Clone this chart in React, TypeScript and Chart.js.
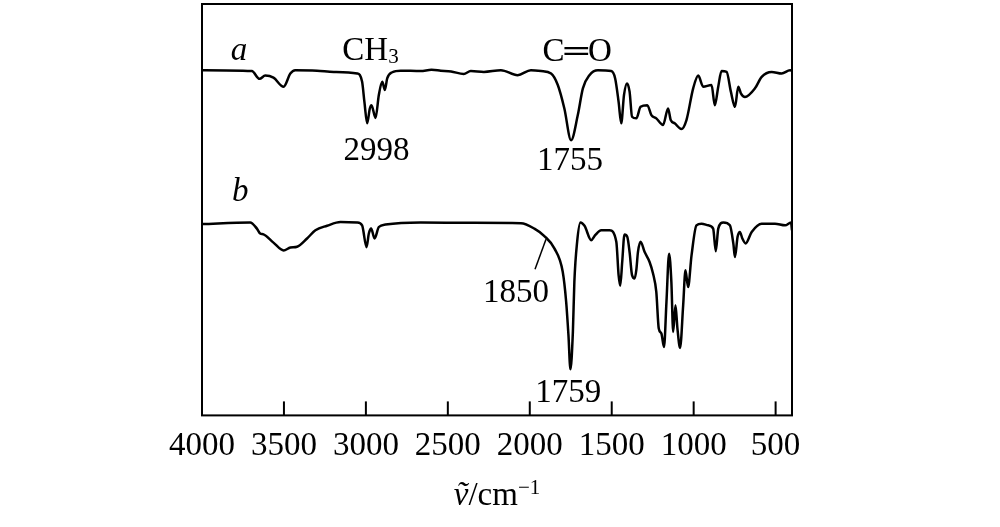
import React, { useEffect, useRef } from "react";
import { Chart, registerables } from "chart.js";

Chart.register(...registerables);

// Wavenumber tick labels (cm^-1)
const tickValues = [4000, 3500, 3000, 2500, 2000, 1500, 1000, 500];

// Spectrum a (relative transmittance, arbitrary units 0-100)
const aWavenumbers = [4000, 3696, 3649, 3614, 3564, 3502, 3461, 3431, 3298, 3196, 3053, 3023, 3009, 2992, 2976, 2966, 2941, 2921, 2900, 2884, 2870, 2839, 2788, 2666, 2600, 2543, 2480, 2403, 2360, 2280, 2176, 2074, 1993, 1931, 1870, 1829, 1789, 1748, 1707, 1676, 1636, 1584, 1503, 1479, 1458, 1442, 1425, 1407, 1391, 1376, 1350, 1324, 1283, 1258, 1228, 1187, 1156, 1140, 1116, 1075, 1044, 1003, 972, 942, 891, 871, 850, 830, 799, 773, 748, 728, 712, 687, 626, 585, 524, 463, 412, 400];
const aValues = [83.9, 83.7, 81.8, 82.6, 82.1, 79.9, 83.1, 83.9, 83.8, 83.5, 83.1, 81.1, 76.2, 71.0, 74.6, 75.4, 72.3, 77.9, 81.1, 79.1, 81.9, 83.4, 83.8, 83.7, 84.0, 83.8, 83.6, 83.0, 83.7, 83.5, 83.9, 82.7, 83.9, 83.7, 83.1, 80.3, 74.6, 66.9, 73.0, 79.5, 82.7, 83.9, 83.7, 81.9, 76.2, 71.0, 77.9, 80.7, 78.7, 72.6, 72.2, 75.0, 75.4, 73.0, 72.2, 70.6, 74.6, 71.8, 71.0, 69.6, 71.8, 79.5, 82.6, 79.9, 80.3, 75.4, 79.9, 83.7, 83.5, 78.7, 75.0, 79.9, 78.3, 77.4, 79.5, 82.3, 83.5, 83.1, 83.9, 83.8];

// Spectrum b
const bWavenumbers = [4000, 3706, 3665, 3645, 3625, 3564, 3502, 3461, 3420, 3359, 3308, 3237, 3155, 3053, 3023, 2996, 2982, 2968, 2947, 2921, 2880, 2666, 2360, 2054, 1972, 1911, 1850, 1799, 1778, 1764, 1752, 1737, 1728, 1711, 1691, 1666, 1625, 1601, 1564, 1513, 1472, 1458, 1448, 1436, 1422, 1405, 1391, 1376, 1360, 1350, 1340, 1324, 1299, 1269, 1248, 1228, 1213, 1197, 1181, 1166, 1150, 1136, 1125, 1111, 1099, 1083, 1064, 1050, 1034, 1013, 983, 952, 911, 881, 865, 850, 819, 779, 758, 748, 732, 718, 703, 683, 646, 585, 504, 442, 406, 400];
const bValues = [46.5, 46.9, 45.4, 44.2, 44.0, 42.0, 40.1, 40.8, 41.0, 43.0, 45.0, 46.1, 47.0, 46.9, 46.2, 40.9, 44.2, 45.4, 43.0, 45.8, 46.4, 46.9, 46.8, 46.7, 45.4, 43.6, 40.6, 34.9, 27.6, 19.5, 11.2, 20.3, 32.4, 42.2, 46.9, 46.1, 42.6, 43.8, 45.0, 45.0, 42.2, 34.1, 31.5, 37.3, 44.0, 43.4, 39.7, 34.1, 33.3, 35.3, 39.7, 42.2, 39.7, 37.3, 34.5, 30.0, 21.1, 19.9, 16.6, 27.6, 39.3, 32.4, 20.3, 26.8, 21.1, 16.4, 26.8, 35.3, 31.2, 38.9, 46.2, 46.6, 46.2, 45.4, 39.9, 45.4, 46.9, 46.2, 41.8, 38.5, 43.4, 44.6, 43.0, 41.8, 44.6, 46.6, 46.6, 46.2, 46.9, 45.0];

// Annotation texts
const labelA = "a";
const labelB = "b";
const labelCH = "CH";
const labelCHsub = "3";
const labelCO = "C═O";
const peakLabels = ["2998", "1755", "1850", "1759"];

const SERIF = "'Liberation Serif', 'Times New Roman', serif";
const FS = 33;

const toXY = (xs: number[], ys: number[]) => xs.map((x, i) => ({ x, y: ys[i] }));

const decorPlugin = {
  id: "decor",
  afterDatasetsDraw(chart: any) {
    const { ctx, chartArea, scales } = chart;
    const xs = scales.x;
    const ys = scales.y;
    const px = (v: number) => xs.getPixelForValue(v);
    const py = (v: number) => ys.getPixelForValue(v);
    ctx.save();
    ctx.fillStyle = "#000";
    ctx.strokeStyle = "#000";
    ctx.textBaseline = "alphabetic";

    // frame
    ctx.lineWidth = 2;
    ctx.strokeRect(chartArea.left, chartArea.top, chartArea.right - chartArea.left, chartArea.bottom - chartArea.top);

    // inward tick marks
    ctx.lineWidth = 2;
    tickValues.forEach((v) => {
      const x = px(v);
      ctx.beginPath();
      ctx.moveTo(x, chartArea.bottom);
      ctx.lineTo(x, chartArea.bottom - 14);
      ctx.stroke();
    });

    const text = (t: string, wn: number, val: number, italic = false, size = FS, align: CanvasTextAlign = "center") => {
      ctx.font = `${italic ? "italic " : ""}${size}px ${SERIF}`;
      ctx.textAlign = align;
      ctx.fillText(t, px(wn), py(val));
    };

    text(labelA, 3774, 86.4, true);
    text(labelB, 3767, 52.1, true);

    // CH3
    ctx.font = `${FS}px ${SERIF}`;
    const chW = ctx.measureText(labelCH).width;
    ctx.font = `21px ${SERIF}`;
    const subW = ctx.measureText(labelCHsub).width;
    const chLeft = px(2972) - (chW + subW) / 2;
    ctx.textAlign = "left";
    ctx.font = `${FS}px ${SERIF}`;
    ctx.fillText(labelCH, chLeft, py(86.4));
    ctx.font = `21px ${SERIF}`;
    ctx.fillText(labelCHsub, chLeft + chW, py(86.4) + 3);

    text(labelCO, 1711, 86.1);

    text(peakLabels[0], 2935, 62.0);
    text(peakLabels[1], 1754, 59.6);
    text(peakLabels[2], 2084, 27.5);
    text(peakLabels[3], 1766, 3.2);

    // leader line for 1850
    ctx.lineWidth = 1.5;
    ctx.beginPath();
    ctx.moveTo(px(1968), py(35.5));
    ctx.lineTo(px(1901), py(42.8));
    ctx.stroke();

    // axis title: ṽ/cm^-1
    const base = 505;
    const p1 = "ṽ";
    const p2 = "/cm";
    const p3 = "−1";
    ctx.font = `italic ${FS}px ${SERIF}`;
    const w1 = ctx.measureText(p1).width;
    ctx.font = `${FS}px ${SERIF}`;
    const w2 = ctx.measureText(p2).width;
    ctx.font = `21px ${SERIF}`;
    const w3 = ctx.measureText(p3).width;
    const cx = (chartArea.left + chartArea.right) / 2;
    let x0 = cx - (w1 + w2 + w3) / 2;
    ctx.textAlign = "left";
    ctx.font = `italic ${FS}px ${SERIF}`;
    ctx.fillText(p1, x0, base);
    x0 += w1;
    ctx.font = `${FS}px ${SERIF}`;
    ctx.fillText(p2, x0, base);
    x0 += w2;
    ctx.font = `21px ${SERIF}`;
    ctx.fillText(p3, x0, base - 11);

    ctx.restore();
  },
};

export default function App() {
  const canvasRef = useRef<HTMLCanvasElement | null>(null);

  useEffect(() => {
    if (!canvasRef.current) return;
    const chart = new Chart(canvasRef.current, {
      type: "line",
      data: {
        datasets: [
          {
            label: "a",
            data: toXY(aWavenumbers, aValues),
            borderColor: "#000",
            borderWidth: 2.5,
            pointRadius: 0,
            cubicInterpolationMode: "monotone",
            fill: false,
          },
          {
            label: "b",
            data: toXY(bWavenumbers, bValues),
            borderColor: "#000",
            borderWidth: 2.5,
            pointRadius: 0,
            cubicInterpolationMode: "monotone",
            fill: false,
          },
        ],
      },
      options: {
        animation: false,
        responsive: true,
        maintainAspectRatio: false,
        layout: { padding: { left: 202, right: 208, top: 4, bottom: 50 } },
        plugins: { legend: { display: false }, tooltip: { enabled: false }, title: { display: false } },
        scales: {
          x: {
            type: "linear",
            reverse: true,
            min: 400,
            max: 4000,
            afterBuildTicks: (axis: any) => {
              axis.ticks = tickValues.map((v) => ({ value: v }));
            },
            ticks: {
              color: "#000",
              font: { family: SERIF, size: FS },
              padding: 11,
              maxRotation: 0,
              autoSkip: false,
              callback: (v: any) => String(v),
            },
            grid: { display: false, drawTicks: false },
            border: { display: false },
          },
          y: {
            type: "linear",
            min: 0,
            max: 100,
            display: false,
          },
        },
      },
      plugins: [decorPlugin],
    });
    return () => chart.destroy();
  }, []);

  return (
    <div style={{ position: "fixed", left: 0, top: 0, width: 1000, height: 527, background: "#fff" }}>
      <canvas ref={canvasRef} />
    </div>
  );
}
